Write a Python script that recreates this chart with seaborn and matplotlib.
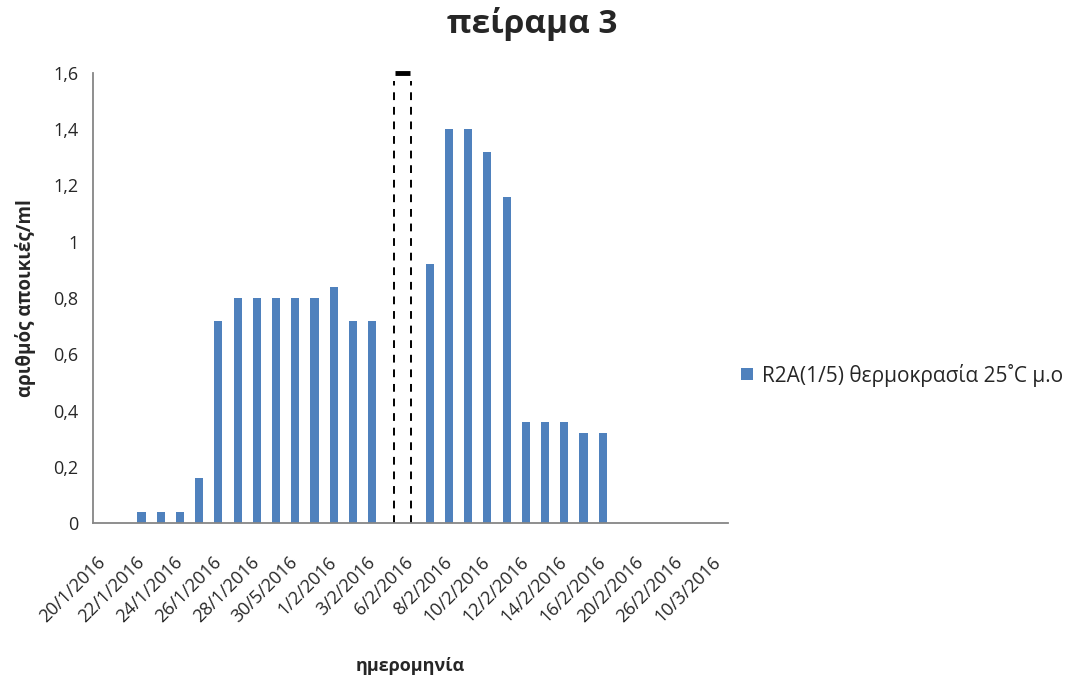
import numpy as np
import pandas as pd
import matplotlib
matplotlib.use("Agg")
import matplotlib.pyplot as plt
import seaborn as sns

# data (Excel bar chart, labels every 2nd category)
dates = ["20/1/2016", "21/1/2016", "22/1/2016", "23/1/2016", "24/1/2016",
         "25/1/2016", "26/1/2016", "27/1/2016", "28/1/2016", "29/1/2016",
         "30/5/2016", "31/1/2016", "1/2/2016", "2/2/2016", "3/2/2016",
         "4/2/2016", "6/2/2016", "7/2/2016", "8/2/2016", "9/2/2016",
         "10/2/2016", "11/2/2016", "12/2/2016", "13/2/2016", "14/2/2016",
         "15/2/2016", "16/2/2016", "18/2/2016", "20/2/2016", "23/2/2016",
         "26/2/2016", "3/3/2016", "10/3/2016"]
colonies = [np.nan, np.nan, 0.04, 0.04, 0.04, 0.16, 0.72, 0.80, 0.80, 0.80,
            0.80, 0.80, 0.84, 0.72, 0.72, np.nan, np.nan, 0.92, 1.40, 1.40,
            1.32, 1.16, 0.36, 0.36, 0.36, 0.32, 0.32, np.nan, np.nan, np.nan,
            np.nan, np.nan, np.nan]
series_name = "R2A(1/5) θερμοκρασία 25˚C μ.ο"
y_ticks = [0, 0.2, 0.4, 0.6, 0.8, 1.0, 1.2, 1.4, 1.6]

# dashed marker box drawn by hand on the original (category units)
box_left, box_right = 15.13, 16.0

df = pd.DataFrame({"date": dates, "value": colonies})

sns.set_style("white")
plt.rcParams["font.family"] = ["Open Sans", "DejaVu Sans"]

fig = plt.figure(figsize=(10.77, 6.77), dpi=100)
ax = fig.add_axes([0.0868, 0.227, 0.5888, 0.6656])

sns.barplot(data=df, x="date", y="value", order=dates, color="#4F81BD",
            saturation=1, width=0.42, edgecolor="none", label=series_name,
            ax=ax)

ax.set_xlim(-0.5, len(dates) - 0.5)
ax.set_ylim(0, 1.6)
ax.set_yticks(y_ticks)
ax.set_yticklabels([f"{t:g}".replace(".", ",") for t in y_ticks],
                   fontsize=13, color="#262626")
ax.set_xticks(range(0, len(dates), 2))
ax.set_xticklabels(dates[::2], rotation=45, ha="right", va="center",
                   rotation_mode="anchor", fontsize=13, color="#262626")
ax.tick_params(axis="x", length=0, pad=26)
ax.tick_params(axis="y", length=5, width=1, color="#868686", pad=6)

for side in ["top", "right"]:
    ax.spines[side].set_visible(False)
for side in ["left", "bottom"]:
    ax.spines[side].set_color("#868686")
    ax.spines[side].set_linewidth(1.3)

# dashed box with thick top
for xb in [box_left, box_right]:
    ax.plot([xb, xb], [0, 1.57], color="black", lw=1.4, dashes=(4, 3.5),
            clip_on=False)
ax.plot([box_left + 0.05, box_right - 0.04], [1.6, 1.6], color="black",
        lw=3.5, solid_capstyle="butt", clip_on=False)

ax.set_xlabel("ημερομηνία", fontsize=13, fontweight="bold", labelpad=22)
ax.set_ylabel("αριθμός αποικιές/ml", fontsize=13.5, fontweight="bold",
              labelpad=12)

fig.suptitle("πείραμα 3", x=0.494, y=0.99, fontsize=24, fontweight="bold")

ax.legend(loc="center left", bbox_to_anchor=(0.671, 0.446),
          bbox_transform=fig.transFigure, frameon=False, fontsize=15,
          handlelength=0.55, handleheight=0.55, handletextpad=0.45)

fig.savefig("out.png", dpi=100)
